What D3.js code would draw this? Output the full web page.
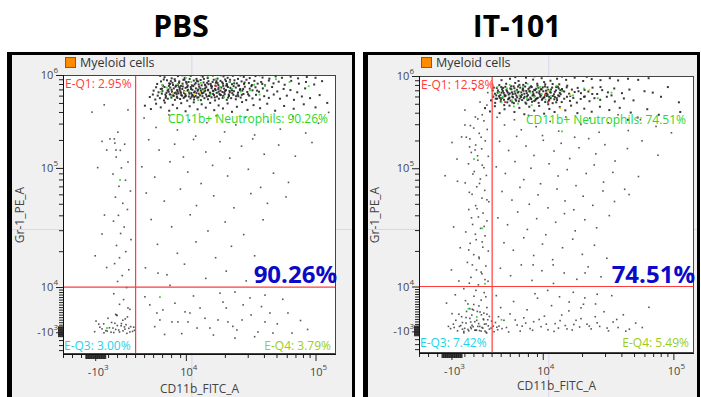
<!DOCTYPE html>
<html>
<head>
<meta charset="utf-8">
<script src="https://cdn.jsdelivr.net/npm/d3@7"></script>
<style>
  body { margin: 0; background: #fff; }
  svg { display: block; }
  text { font-family: "Open Sans", "Noto Sans", sans-serif; }
</style>
</head>
<body>
<svg id="chart" width="701" height="397"></svg>
<script>
// all event positions are in display channels (0..1000 on both axes)
const titles = ['PBS', 'IT-101'];
const legendName = 'Myeloid cells';
const xAxisName = 'CD11b_FITC_A';
const yAxisName = 'Gr-1_PE_A';

const q1Pct = ['2.95%', '12.58%'];
const neutroPct = ['90.26%', '74.51%'];
const q3Pct = ['3.00%', '7.42%'];
const q4Pct = ['3.79%', '5.49%'];

const xTickCh = [118, 450, 925];
const xTickLabels = [['-10', '3'], ['10', '4'], ['10', '5']];
const yTickCh = [78, 240, 667, 1000];
const yTickLabels = [['-10', '3'], ['10', '4'], ['10', '5'], ['10', '6']];
const xDecades = [[450, 925]];
const yDecades = [[240, 667], [667, 1000]];
const gate = [266, 240];
const cursor = [472, 446];

const pbsCluster = [
  [372,992],[398,988],[421,996],[446,990],[468,997],[489,986],[512,994],[530,989],[549,998],[566,987],[588,995],[603,990],[622,997],[641,986],[662,993],[684,989],[705,996],[731,991],[756,987],[779,995],[802,990],[834,994],[861,988],[893,993],[925,990],[356,997],[437,999],[505,999],[578,999],[650,998],[720,999],
  [345,968],[359,977],[366,962],[381,981],[389,970],[403,964],[411,979],[425,972],[432,961],[441,983],[453,969],[460,975],[472,963],[479,980],[486,971],[497,966],[504,982],[515,973],[522,962],[533,978],[541,968],[552,983],[560,972],[569,964],[577,979],[586,969],[594,984],[601,963],[611,975],[619,967],[628,981],[637,970],[645,962],[654,977],[663,968],[672,983],[681,971],[692,964],[701,979],[713,969],[726,975],[740,963],[754,980],[771,970],[790,976],[812,965],[836,979],[864,969],[890,975],[920,966],[949,978],
  [332,944],[341,956],[350,938],[358,950],[364,942],[372,957],[379,936],[386,948],[393,955],[399,940],[406,952],[413,937],[418,946],[424,958],[430,941],[437,950],[443,936],[449,954],[456,944],[462,939],[468,957],[474,947],[480,937],[487,952],[493,943],[499,958],[506,938],[512,949],[518,941],[525,956],[531,945],[538,937],[544,953],[551,942],[557,950],[563,936],[570,955],[577,944],[584,939],[590,951],[597,946],[604,957],[611,938],[618,949],[626,942],[633,955],[641,937],[649,950],[657,944],[666,958],[675,939],[684,951],[694,945],[705,956],[718,940],[732,952],[748,944],[766,957],[785,941],[808,950],[833,946],[858,938],[887,952],
  [318,921],[329,930],[338,912],[347,926],[355,917],[362,933],[370,909],[377,924],[384,915],[391,931],[397,919],[404,927],[410,911],[417,922],[423,934],[429,914],[436,926],[442,918],[448,931],[455,908],[461,923],[467,916],[473,929],[480,912],[486,925],[492,919],[498,933],[505,910],[511,924],[518,917],[524,930],[531,913],[537,926],[544,920],[550,932],[557,909],[564,923],[571,915],[578,928],[585,918],[592,931],[600,911],[608,925],[616,917],[624,929],[633,913],[642,924],[651,919],[661,932],[671,910],[682,926],[694,916],[707,929],[721,912],[737,924],[754,918],[772,930],[795,915],[820,926],[846,911],[875,923],[905,917],[940,928],
  [300,890],[322,878],[341,897],[358,884],[373,901],[389,872],[402,893],[418,881],[433,899],[449,870],[464,888],[479,902],[493,877],[508,895],[523,883],[539,900],[554,874],[570,891],[586,880],[603,898],[619,868],[637,886],[656,903],[676,875],[698,892],[722,881],[748,897],[777,872],[810,889],[845,879],[882,895],[925,884],[968,900],
  [383,944],[388,961],[394,929],[401,972],[407,935],[412,958],[416,931],[421,965],[427,947],[433,928],[438,969],[444,942],[450,925],[457,962],[463,933],[469,950],[476,926],[482,966],[489,935],[495,948],[502,927],[508,963],[514,936],[520,952],[527,923],[533,967],[540,934],[546,959],[553,928],[559,946],[566,971],[573,932],[580,955],[587,925],[594,943],[600,968],[607,930],[613,954],[620,935],[395,978],[445,983],[495,977],[548,975],[597,978],[375,930],[428,953],[481,921],[532,947],[587,961],[640,930],[455,957],[505,944],[558,962],[610,943],[660,950],[420,940],[470,935],[520,965],[570,940],[625,960],
  [363,951],[369,984],[376,918],[387,940],[392,968],[398,947],[405,925],[409,985],[414,962],[419,918],[426,977],[432,936],[439,959],[446,922],[451,975],[458,947],[464,986],[471,922],[477,960],[483,941],[490,979],[496,920],[503,952],[509,934],[516,986],[521,944],[528,972],[535,925],[542,961],[549,944],[556,920],[562,978],[569,949],[576,929],[583,974],[591,937],[598,962],[605,919],[612,983],[619,945],[627,970],[634,924],[642,962],[648,946],[655,929],[665,973],[678,931],[690,960],[711,944],[730,968]
];

const pbsScatter = [
  [297,846],[341,812],[388,857],[419,803],[463,838],[486,781],[527,829],[561,854],[592,796],[633,821],[668,848],[702,785],[751,833],[796,806],[842,851],[889,792],[936,827],[973,866],
  [314,768],[352,731],[409,752],[441,706],[478,769],[523,724],[575,761],[611,702],[654,745],[695,771],[737,716],[790,749],[851,709],[912,758],
  [289,671],[336,634],[392,689],[457,652],[506,611],[548,676],[603,638],[679,662],[724,597],[771,648],[826,615],
  [305,577],[371,548],[430,591],[489,532],[552,567],[626,524],[688,575],[749,540],[817,563],
  [323,482],[398,456],[466,499],[531,441],[594,473],[662,428],[733,481],
  [346,393],[419,361],[487,402],[559,345],[617,386],[702,352],
  [302,309],[381,284],[445,322],[523,271],[598,297],[671,262],[744,305],
  [201,795],[188,771],[226,752],[210,730],[195,706],[238,688],[214,667],[183,645],[229,623],[205,601],[247,584],[192,562],[219,540],[236,518],[203,497],[185,476],[224,455],[211,432],[249,410],[196,389],[230,367],[207,345],[189,324],[241,302],[217,281],[200,260],[233,238],[186,216],[222,195],[207,178],[245,160],[193,142],[228,126],[214,109],[238,165],[196,140],
  [106,867],[238,875],[172,771],[190,756],[194,731],[151,893],[143,762],[160,731],[127,668],[152,498],[143,430],[118,352],[160,310],
  [121,118],[135,96],[149,108],[162,82],[170,94],[178,113],[186,77],[193,88],[199,102],[207,79],[213,101],[220,83],[227,89],[234,74],[241,92],[248,98],[255,81],[262,85],[143,90],[157,84],[176,78],[190,110],[204,86],[219,121],[231,105],[245,79],[259,96],[131,107],[165,128],[198,138],[236,133],[116,80],[150,76],[183,93],[225,97],
  [630,222],[740,211],[447,151],[465,147],[502,165],[586,186],[685,201],[758,147],[824,147],[458,115],[568,122],[604,115],[656,122],[740,115],[491,93],[538,93],[637,86],[714,79],[769,75],[839,75],[630,57],[421,115],[344,147],[355,122],[366,158],[399,115],[348,290],[392,246],
  [300,205],[318,176],[336,98],[372,70],[410,182],[435,73],[478,208],[520,128],[551,68],[575,218],[598,165],[622,99],[660,176],[689,140],[702,62],[727,170],[785,108],[805,196],[870,120],[896,88]
];

const pbsGreen = [
  [380,955],[420,968],[462,941],[505,972],[540,930],[575,958],[610,975],[650,940],[700,965],[450,990],[395,925],[530,995],[590,920],[685,945],[740,960],[830,975],[495,910],[560,985],[620,950],[720,930],[470,975],[515,945],[360,940],[780,985],[900,960],[363,964],
  [209,624],[161,93],[355,204]
];
const pbsYellow = [[403,935],[445,940],[480,932],[502,937]];
const pbsRed = [[560,960]];

const itCluster = [
  [300,985],[331,990],[362,982],[389,994],[415,987],[446,992],[478,983],[502,990],[535,986],[566,994],[597,982],[628,989],[660,985],[694,992],[724,984],[760,990],[797,986],[835,992],[420,999],[520,998],[610,997],[350,996],
  [268,948],[276,936],[283,957],[290,942],[296,931],[302,952],[308,939],[314,961],[320,945],[326,933],[332,955],[338,941],[344,963],[350,936],[356,950],[362,943],[368,958],[374,932],[380,947],[386,962],[392,938],[398,953],[404,944],[410,960],[416,935],[422,949],[428,941],[434,957],[440,933],[446,952],[452,945],[458,962],[464,937],[470,950],[477,942],[484,958],[491,934],[498,948],[505,961],[512,939],[520,953],[528,944],[537,959],[546,936],[556,951],[566,942],[577,957],[589,938],[602,950],[616,944],[631,958],[648,935],[666,949],[687,941],[710,955],[738,938],[765,951],
  [262,912],[270,925],[277,903],[284,918],[291,927],[297,908],[303,921],[309,914],[315,929],[321,905],[327,919],[333,911],[339,926],[345,902],[351,916],[357,923],[363,909],[369,928],[375,913],[381,920],[387,904],[393,926],[399,915],[405,922],[411,907],[417,929],[423,912],[429,919],[435,903],[441,925],[447,914],[453,921],[459,906],[465,928],[472,911],[479,920],[486,902],[494,924],[502,913],[510,927],[519,906],[528,918],[538,925],[549,910],[561,921],[574,904],[588,917],[603,926],[620,909],[638,920],[659,914],[683,925],[712,908],[745,919],[780,912],
  [240,884],[258,872],[276,891],[293,866],[311,880],[329,893],[347,870],[365,885],[383,862],[401,889],[419,875],[437,892],[455,864],[474,881],[493,870],[512,888],[532,876],[553,893],[576,866],[601,882],[628,871],[658,889],[692,877],[730,885],[770,868],
  [281,930],[287,948],[294,921],[300,940],[306,957],[312,927],[318,950],[324,916],[330,937],[336,952],[342,923],[348,944],[354,929],[360,962],[366,918],[372,941],[378,955],[384,925],[390,946],[396,931],[402,958],[408,917],[414,943],[420,927],[426,954],[432,921],[438,945],[444,930],[450,959],[456,924],[462,947],[468,933],[474,915],[480,951],[487,928],[494,943],[501,920],[508,955],[515,934],[522,946],[299,960],[339,905],[379,968],[419,910],[459,970],[499,905],[539,965],[310,895],[350,975],[390,900],[430,972],[470,898],[510,970],[550,928],[580,945],[600,925],[630,935],[660,960],[700,930],[820,945],
  [272,958],[279,918],[286,940],[292,967],[298,915],[305,946],[311,932],[317,972],[323,940],[329,922],[335,963],[341,935],[347,956],[353,911],[359,940],[365,968],[371,924],[377,950],[383,936],[389,975],[395,913],[401,945],[407,963],[413,930],[419,950],[425,917],[431,965],[437,938],[443,952],[449,918],[455,978],[461,936],[467,959],[473,925],[479,940],[486,971],[492,916],[499,960],[506,930],[514,949],
  [850,940],[880,925],[905,960],[945,905],[830,880],[872,860],[795,850],[760,842],[950,870]
];

const itScatter = [
  [205,852],[236,838],[187,821],[248,807],[219,793],[172,779],[241,766],[206,751],[228,737],[190,724],[252,710],[214,696],[180,683],[236,669],[201,655],[245,641],[223,628],[168,614],[210,600],[239,587],[193,573],[229,559],[254,546],[206,532],[181,518],[233,505],[216,491],[247,477],[195,464],[224,450],[170,437],[240,423],[208,409],[186,396],[232,382],[252,368],[199,355],[219,341],[176,327],[243,314],[209,300],[229,286],[189,273],[251,259],[216,246],[163,232],[237,218],[200,205],[226,191],[178,177],[247,164],[212,150],[192,137],[234,123],[158,110],[221,96],[203,82],[246,72],[185,160],
  [214,845],[199,812],[226,779],[184,744],[213,712],[230,678],[196,646],[220,612],[183,580],[247,553],[211,521],[191,488],[237,457],[205,429],[230,401],[181,372],[218,346],[194,318],[226,292],[240,265],[183,252],[207,226],[243,203],[169,189],[218,170],[194,158],[236,144],[171,128],[210,118],[244,105],[188,93],[226,79],[163,73],[256,132],[199,175],
  [140,620],[126,455],[150,380],[118,300],[145,260],[132,210],[100,180],[155,780],[138,700],
  [120,142],[134,118],[147,96],[155,131],[163,78],[171,108],[178,85],[185,125],[190,88],[197,95],[203,113],[209,82],[214,96],[220,81],[227,138],[232,90],[238,104],[244,75],[250,120],[256,86],[262,90],[270,97],[278,110],[286,84],[115,88],[128,92],[140,80],[152,99],[166,89],[181,80],[193,100],[206,83],[217,106],[229,92],[240,79],[252,98],[264,115],[273,77],[283,93],[291,97],[125,104],[145,140],[173,150],[198,155],[222,148],[247,140],[107,96],[158,86],[188,112],[235,120],
  [167,823],[185,773],[204,733],[222,906],[247,895],[167,877],[120,760],[95,640],[230,860],[250,940],[200,950],
  [284,851],[311,823],[347,842],[372,806],[398,858],[426,817],[449,785],[477,836],[508,801],[534,852],[566,779],[589,825],[621,848],[655,797],[688,831],[724,860],[761,803],[805,842],[862,818],[918,795],
  [293,764],[326,731],[355,782],[389,747],[418,713],[452,768],[491,729],[517,757],[548,702],[582,741],[617,774],[643,719],[676,752],[713,693],[758,738],[811,766],[869,714],
  [281,672],[314,648],[349,691],[381,626],[407,667],[442,611],[473,683],[506,639],[539,662],[571,604],[608,648],[637,679],[671,617],[705,652],[748,591],[798,637],
  [302,583],[338,552],[367,598],[401,537],[433,571],[469,524],[502,592],[531,549],[563,517],[597,566],[632,533],[669,585],[711,547],[764,572],
  [287,488],[322,463],[359,509],[394,446],[428,485],[461,427],[497,472],[529,503],[568,441],[603,481],[646,452],[692,496],
  [309,398],[343,371],[381,416],[417,352],[449,393],[486,337],[522,380],[559,411],[594,356],[638,389],[683,342],
  [296,306],[333,279],[372,318],[411,262],[447,297],[489,251],[528,289],[574,266],[615,311],[662,275],
  [281,207],[297,164],[309,118],[318,92],[331,141],[344,186],[357,101],[368,79],[381,127],[393,156],[404,88],[417,113],[431,198],[444,95],[456,133],[469,84],[482,171],[495,106],[507,90],[519,137],[532,99],[545,152],[557,83],[571,118],[584,94],[598,176],[611,104],[626,87],[641,131],[657,96],[673,149],[689,80],[706,112],[724,92],[743,138],[765,86],[788,108],[812,92],[836,165],
  [289,131],[302,88],[326,76],[350,119],[375,97],[388,108],[413,82],[437,121],[463,104],[491,78],[513,117],[538,87],[563,103],[589,124],[619,97],[648,109],[684,90],[719,121],[752,79],
  [422,214],[468,226],[511,203],[561,219],[603,199],[648,212],[701,207],[589,163],[642,177],[546,184],[415,318],[488,318],[604,289]
];

const itGreen = [
  [290,940],[305,925],[320,955],[338,912],[352,946],[365,930],[378,960],[392,918],[405,940],[418,925],[432,955],[446,935],[460,915],[475,948],[300,905],[330,968],[360,900],[395,972],[440,960],[480,928],[520,945],[560,930],[600,955],[650,920],[700,940],[270,930],[285,960],[345,890],[410,895],[500,965],
  [200,700],[230,450],[210,130],[180,160],[240,250],[520,800],[300,120]
];
const itYellow = [[549,931],[513,884],[470,945],[620,950]];
const itRed = [[458,931],[469,906],[313,906]];

const panels = [
  { frame: [9, 355], plot: [63, 336, 75, 354], titleX: 181, yLabX: 20, xLabY: 393,
    cluster: pbsCluster, scatter: pbsScatter, green: pbsGreen, yellow: pbsYellow, red: pbsRed, q3dy: -4 },
  { frame: [365, 700], plot: [419, 694, 76, 353], titleX: 517, yLabX: 375, xLabY: 390,
    cluster: itCluster, scatter: itScatter, green: itGreen, yellow: itYellow, red: itRed, q3dy: -6 }
];

const svg = d3.select('#chart');

// minor tick channels
const logMinor = decs => decs.flatMap(([lo, hi]) => d3.range(2, 10).map(k => lo + Math.log10(k) * (hi - lo)));
const xMinor = logMinor(xDecades).concat(d3.range(0, 450, 33).filter(c => c < 78 || c > 160));
const xBlob = d3.range(82, 156, 2.5);
const yMinor = logMinor(yDecades).concat(d3.range(105, 240, 9), [14, 32, 50]);
const yBlob = d3.range(64, 100, 2.5);

panels.forEach((p, i) => {
  const [px0, px1, py0, py1] = p.plot;
  const g = svg.append('g');
  const x = d3.scaleLinear().domain([0, 1000]).range([px0, px1]);
  const y = d3.scaleLinear().domain([0, 1000]).range([py1, py0]);

  g.append('text')
    .attr('x', p.titleX).attr('y', 37)
    .attr('text-anchor', 'middle')
    .attr('font-size', 30).attr('font-weight', 700)
    .attr('fill', '#000')
    .text(titles[i]);

  // window frame
  g.append('rect')
    .attr('x', p.frame[0] + 1.5).attr('y', 53.5)
    .attr('width', p.frame[1] - p.frame[0] - 3).attr('height', 400)
    .attr('fill', '#f0f0f0').attr('stroke', '#000').attr('stroke-width', 3);
  g.append('rect')
    .attr('x', p.frame[0] - 2).attr('y', 52)
    .attr('width', 3).attr('height', 350).attr('fill', '#000');

  // faint cursor cross-hair
  const cx = x(cursor[0]), cy = y(cursor[1]);
  const ch = '#d6d6f2';
  g.append('line').attr('x1', cx).attr('x2', cx).attr('y1', 55).attr('y2', 397).attr('stroke', ch);
  g.append('line').attr('x1', p.frame[0] + 3).attr('x2', p.frame[1] - 3).attr('y1', cy).attr('y2', cy).attr('stroke', ch);

  g.append('rect')
    .attr('x', px0).attr('y', py0)
    .attr('width', px1 - px0).attr('height', py1 - py0)
    .attr('fill', '#fff');

  const clipId = 'clip' + i;
  g.append('clipPath').attr('id', clipId).append('rect')
    .attr('x', px0).attr('y', py0).attr('width', px1 - px0).attr('height', py1 - py0);
  const dots = g.append('g').attr('clip-path', `url(#${clipId})`);

  const drawDots = (data, color, size, op) => {
    dots.append('g').selectAll('rect').data(data).join('rect')
      .attr('x', d => x(d[0]) - size / 2).attr('y', d => y(d[1]) - size / 2)
      .attr('width', size).attr('height', size)
      .attr('fill', color).attr('opacity', op);
  };
  drawDots(p.scatter, '#3a3a3a', 1.6, 0.85);
  drawDots(p.cluster, '#222', 2, 0.9);
  drawDots(p.green, '#33e033', 1.8, 1);
  drawDots(p.yellow, '#e6d21a', 1.8, 1);
  drawDots(p.red, '#e82020', 1.8, 1);

  // gates
  g.append('line').attr('x1', x(gate[0])).attr('x2', x(gate[0])).attr('y1', py0).attr('y2', py1)
    .attr('stroke', '#ff3b3b').attr('stroke-width', 1.2);
  g.append('line').attr('x1', px0).attr('x2', px1).attr('y1', y(gate[1])).attr('y2', y(gate[1]))
    .attr('stroke', '#ff3b3b').attr('stroke-width', 1.2);

  g.append('rect')
    .attr('x', px0 + 0.5).attr('y', py0 + 0.5)
    .attr('width', px1 - px0 - 1).attr('height', py1 - py0 - 1)
    .attr('fill', 'none').attr('stroke', '#444');

  // axes
  const tickCol = '#222';
  const axisX = (vals, size) => g.append('g').attr('transform', `translate(0,${py1})`)
    .call(d3.axisBottom(x).tickValues(vals).tickSize(size).tickFormat(''))
    .call(a => a.select('.domain').remove())
    .call(a => a.selectAll('line').attr('stroke', tickCol));
  const axisY = (vals, size) => g.append('g').attr('transform', `translate(${px0},0)`)
    .call(d3.axisLeft(y).tickValues(vals).tickSize(size).tickFormat(''))
    .call(a => a.select('.domain').remove())
    .call(a => a.selectAll('line').attr('stroke', tickCol));
  axisX(xMinor, 4); axisX(xBlob, 5); axisX(xTickCh, 7);
  axisY(yMinor, 4); axisY(yBlob, 5); axisY(yTickCh, 7);
  g.append('line').attr('x1', px0).attr('x2', px1).attr('y1', py1 + 0.5).attr('y2', py1 + 0.5).attr('stroke', '#111');
  g.append('line').attr('x1', px0 + 0.5).attr('x2', px0 + 0.5).attr('y1', py0).attr('y2', py1).attr('stroke', '#111');

  xTickCh.forEach((c, k) => {
    const t = g.append('text').attr('x', x(c) + 3).attr('y', py1 + 22)
      .attr('text-anchor', 'middle').attr('font-size', 11).attr('fill', '#444');
    t.append('tspan').text(xTickLabels[k][0]);
    t.append('tspan').attr('dy', -6).attr('font-size', 8).text(xTickLabels[k][1]);
  });
  yTickCh.forEach((c, k) => {
    const t = g.append('text').attr('x', px0 - 5).attr('y', y(c) + 4)
      .attr('text-anchor', 'end').attr('font-size', 11).attr('fill', '#444');
    t.append('tspan').text(yTickLabels[k][0]);
    t.append('tspan').attr('dy', -6).attr('font-size', 8).text(yTickLabels[k][1]);
  });

  g.append('text')
    .attr('transform', `translate(${p.yLabX + 4},${215}) rotate(-90)`)
    .attr('text-anchor', 'middle').attr('font-size', 12).attr('fill', '#444')
    .text(yAxisName);
  g.append('text')
    .attr('x', (px0 + px1) / 2).attr('y', p.xLabY)
    .attr('text-anchor', 'middle').attr('font-size', 12).attr('fill', '#444')
    .text(xAxisName);

  // legend
  g.append('rect').attr('x', px0 + 2.5).attr('y', 57.5).attr('width', 10).attr('height', 10)
    .attr('fill', '#ff8c00').attr('stroke', '#8a5a20');
  g.append('text').attr('x', px0 + 17).attr('y', 67)
    .attr('font-size', 12.5).attr('fill', '#333').text(legendName);

  // quadrant statistics
  g.append('text').attr('x', px0 + 2).attr('y', py0 + 13)
    .attr('font-size', 12).attr('fill', '#ff3b3b').text('E-Q1: ' + q1Pct[i]);
  g.append('text').attr('x', px1 - 8).attr('y', py0 + 48).attr('text-anchor', 'end')
    .attr('font-size', 12).attr('fill', '#2bd62b').text('CD11b+ Neutrophils: ' + neutroPct[i]);
  g.append('text').attr('x', px0 + 1).attr('y', py1 + p.q3dy)
    .attr('font-size', 12).attr('fill', '#22d3e6').text('E-Q3: ' + q3Pct[i]);
  g.append('text').attr('x', px1 - 5).attr('y', py1 + p.q3dy).attr('text-anchor', 'end')
    .attr('font-size', 12).attr('fill', '#9acd1a').text('E-Q4: ' + q4Pct[i]);
  g.append('text').attr('x', px1 + 1).attr('y', y(gate[1]) - 4).attr('text-anchor', 'end')
    .attr('font-size', 24).attr('font-weight', 700).attr('fill', '#0a0ac8').text(neutroPct[i]);
});
</script>
</body>
</html>
